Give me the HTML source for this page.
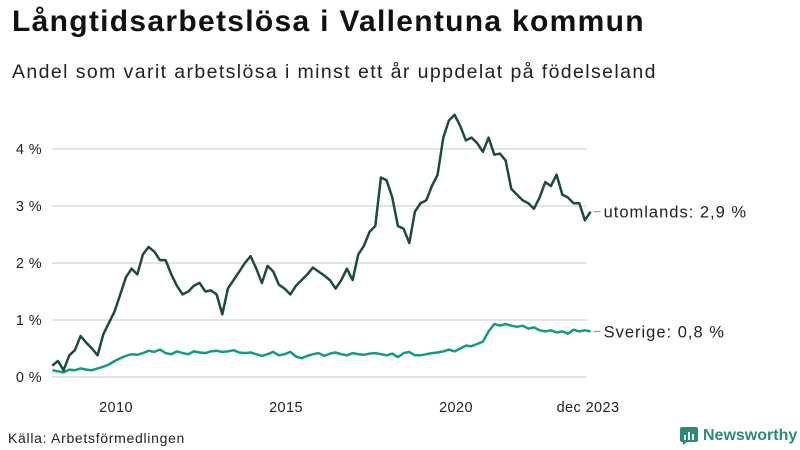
<!DOCTYPE html>
<html><head><meta charset="utf-8"><style>
body{margin:0;width:800px;height:450px;background:#fff;font-family:"Liberation Sans","DejaVu Sans",sans-serif;overflow:hidden;position:relative}
#title{position:absolute;left:12px;top:5px;font-size:30px;font-weight:bold;color:#111;margin:0;letter-spacing:1.3px}
#sub{position:absolute;left:12px;top:61px;font-size:19.5px;color:#222;letter-spacing:1.4px}
#src{position:absolute;left:8px;top:430px;font-size:14px;color:#222;letter-spacing:0.7px}
#logo{position:absolute;left:680px;top:427px;font-size:16px;font-weight:bold;color:#2c8a78;display:flex;align-items:center;gap:5px}
</style></head><body>
<h1 id="title">Långtidsarbetslösa i Vallentuna kommun</h1>
<div id="sub">Andel som varit arbetslösa i minst ett år uppdelat på födelseland</div>
<svg id="chart" width="800" height="450" style="position:absolute;left:0;top:0"></svg>
<div id="src">Källa: Arbetsförmedlingen</div>
<div id="logo"><svg width="18" height="18"><rect x="0" y="0" width="18" height="15" rx="2" fill="#2c8a78"/><rect x="4" y="8" width="2" height="5" fill="#fff"/><rect x="8" y="5" width="2" height="8" fill="#fff"/><rect x="12" y="7" width="2" height="6" fill="#fff"/><path d="M3 15 L3 18 L7 15Z" fill="#2c8a78"/></svg>Newsworthy</div>
<script>
const startYear = 2008, startMonth = 2, stepMonths = 2;
const yTicks = [0,1,2,3,4];
const xTicks = [2010,2015,2020];
const utomlands = [0.2,0.28,0.12,0.38,0.47,0.72,0.6,0.5,0.38,0.75,0.95,1.15,1.45,1.75,1.9,1.8,2.15,2.28,2.2,2.05,2.05,1.8,1.6,1.45,1.5,1.6,1.65,1.5,1.52,1.45,1.1,1.55,1.7,1.85,2.0,2.12,1.9,1.65,1.95,1.85,1.62,1.55,1.45,1.6,1.7,1.8,1.92,1.85,1.78,1.7,1.55,1.7,1.9,1.7,2.15,2.3,2.55,2.65,3.5,3.45,3.15,2.65,2.6,2.35,2.9,3.05,3.1,3.35,3.55,4.2,4.5,4.6,4.4,4.15,4.2,4.1,3.95,4.2,3.9,3.92,3.8,3.3,3.2,3.1,3.05,2.95,3.15,3.42,3.35,3.55,3.2,3.15,3.05,3.05,2.75,2.9];
const sverige = [0.12,0.1,0.08,0.13,0.12,0.15,0.13,0.12,0.15,0.18,0.22,0.28,0.33,0.37,0.4,0.39,0.42,0.46,0.44,0.48,0.42,0.4,0.45,0.42,0.4,0.45,0.43,0.42,0.45,0.46,0.44,0.45,0.47,0.43,0.42,0.43,0.4,0.37,0.4,0.44,0.38,0.4,0.44,0.36,0.33,0.37,0.4,0.42,0.37,0.41,0.43,0.4,0.38,0.42,0.4,0.39,0.41,0.42,0.4,0.38,0.41,0.35,0.42,0.44,0.38,0.38,0.4,0.42,0.43,0.45,0.48,0.45,0.5,0.55,0.54,0.58,0.62,0.8,0.93,0.9,0.93,0.9,0.88,0.9,0.85,0.87,0.82,0.8,0.82,0.78,0.8,0.76,0.83,0.8,0.82,0.8];
const NS='http://www.w3.org/2000/svg';
const svg=document.getElementById('chart');
const X0=52,X1=587;
function xPos(yearFrac){return 116+(yearFrac-2010)*34;}
function idxYear(i){return startYear+(startMonth-1+i*stepMonths+0.5)/12;}
function yPos(v){return 377-v*57;}
function el(t,a){const e=document.createElementNS(NS,t);for(const k in a)e.setAttribute(k,a[k]);svg.appendChild(e);return e;}
yTicks.forEach(t=>{
  const g=el('line',{x1:X0,x2:X1,y1:yPos(t),y2:yPos(t),stroke:'#dcdce0','stroke-width':1.5});
  
  
  const l=el('text',{x:42,y:yPos(t)+5,'text-anchor':'end','font-size':14.5,fill:'#222','letter-spacing':0.4});
  l.textContent=t+' %';
  
  
});
xTicks.forEach(t=>{
  const l=el('text',{x:xPos(t),y:412,'text-anchor':'middle','font-size':14.5,fill:'#222','letter-spacing':0.4});
  l.textContent=t;
  
  
});
const last=el('text',{x:588,y:412,'text-anchor':'middle','font-size':14.5,fill:'#222','letter-spacing':0.4});
last.textContent='dec 2023';


function series(vals,color,name,label){
  const d=vals.map((v,i)=>(i?'L':'M')+xPos(idxYear(i)).toFixed(1)+' '+yPos(v).toFixed(1)).join(' ');
  const p=el('path',{d:d,fill:'none',stroke:color,'stroke-width':2.5,'stroke-linejoin':'round'});
  
  
  const lv=vals[vals.length-1];
  const lx=xPos(idxYear(vals.length-1));
  const ld=el('line',{x1:lx+3,x2:lx+10,y1:yPos(lv),y2:yPos(lv),stroke:'#888','stroke-width':1});
  
  
  const t=el('text',{x:lx+13,y:yPos(lv)+6,'font-size':16.5,fill:'#222','letter-spacing':1});
  t.textContent=label+': '+lv.toFixed(1).replace('.',',')+' %';
  
  
}
series(sverige,'#16998a','sverige','Sverige');
series(utomlands,'#1e4a3f','utomlands','utomlands');
</script>
</body></html>
